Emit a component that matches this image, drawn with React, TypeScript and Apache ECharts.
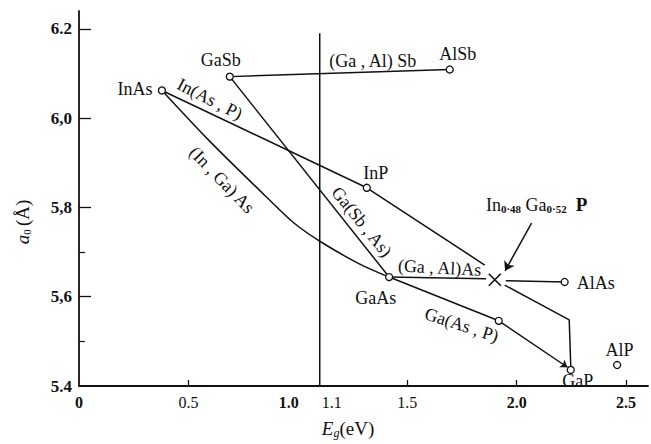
import React, { useEffect, useRef } from "react";
import * as echarts from "echarts";

// ---- data ----
const compoundNames = ["InAs", "GaSb", "AlSb", "InP", "GaAs", "AlAs", "GaP", "AlP"];
const compoundEg = [0.379, 0.689, 1.694, 1.315, 1.417, 2.219, 2.247, 2.459];
const compoundA = [6.062, 6.093, 6.109, 5.844, 5.644, 5.633, 5.436, 5.447];

const gaAsPMid: [number, number] = [1.918, 5.546];
const inGaPPoint: [number, number] = [1.9, 5.638];

const gaAlSbLine = [[0.689, 6.093], [1.694, 6.109]];
const siLine = [[1.1, 5.4], [1.1, 6.19]];
const inAsPLine = [[0.379, 6.062], [1.315, 5.844], [1.854, 5.671]];
const inGaAsCurve = [
  [0.379, 6.062], [0.598, 5.948], [0.872, 5.816],
  [0.985, 5.764], [1.108, 5.722], [1.283, 5.673], [1.417, 5.644],
];
const gaSbAsLine = [[0.689, 6.093], [1.417, 5.644]];
const gaAlAsLeft = [[1.417, 5.644], [1.86, 5.64]];
const gaAlAsRight = [[1.95, 5.636], [2.219, 5.633]];
const inGaPToGaP = [[1.945, 5.626], [2.24, 5.548], [2.247, 5.445]];
const gaAsPLine = [[1.417, 5.644], [1.918, 5.546]];
const gaAsPArrow = [[1.918, 5.546], [2.232, 5.442]];
const pointerArrow = [[2.068, 5.765], [1.947, 5.658]];

const xTickLabels = [0, 0.5, 1.0, 1.1, 1.5, 2.0, 2.5];
const xTicks = [0.5, 1.5, 2.0, 2.5];
const yTickLabels = [5.4, 5.6, 5.8, 6.0, 6.2];
const yTickText = ["5.4", "5,6", "5,8", "6,0", "6.2"];
const yMajorTicks = [5.6, 5.8, 6.0, 6.2];
const yMinorTicks = [5.5, 5.7];

// annotation texts and their anchor values
const annoText = [
  "InAs", "GaSb", "(Ga , Al) Sb", "AlSb", "InP", "GaAs", "AlAs", "GaP", "AlP",
  "In(As , P)", "(In , Ga) As", "Ga(Sb , As)", "(Ga , Al)As", "Ga(As , P)",
  "{n|In}{s|0·48} {n|Ga}{s|0·52}  {b|P}",
];
const annoEg = [0.256, 0.648, 1.342, 1.731, 1.356, 1.356, 2.361, 2.279, 2.47, 0.598, 0.653, 1.292, 1.648, 1.749, 2.091];
const annoA = [6.066, 6.131, 6.129, 6.144, 5.878, 5.597, 5.631, 5.411, 5.481, 6.043, 5.862, 5.768, 5.665, 5.537, 5.806];
const annoRotate = [0, 0, 0, 0, 0, 0, 0, 0, 0, -27, -46, -51, -3, -18, 0];

const FONT = "'Liberation Serif', 'DejaVu Serif', serif";
const INK = "#111";

export default function App() {
  const ref = useRef<HTMLDivElement>(null);
  useEffect(() => {
    if (!ref.current) return;
    const chart = echarts.init(ref.current, null, { renderer: "svg" });
    const lineSeries = (data: number[][], smooth: boolean | number = false) => ({
      type: "line",
      data,
      showSymbol: false,
      symbol: "none",
      smooth,
      silent: true,
      lineStyle: { color: INK, width: 1.5 },
      z: 2,
    });
    const arrowSeries = (coords: number[][], size: number) => ({
      type: "lines",
      coordinateSystem: "cartesian2d",
      silent: true,
      symbol: ["none", "arrow"],
      symbolSize: size,
      lineStyle: { color: INK, width: 1.5, curveness: 0, opacity: 1 },
      itemStyle: { color: INK },
      data: [{ coords }],
      z: 3,
    });
    const option: any = {
      animation: false,
      backgroundColor: "#fff",
      grid: { left: 79, right: 3, top: 11, bottom: 58 },
      xAxis: {
        type: "value",
        min: 0,
        max: 2.6,
        splitLine: { show: false },
        axisLine: { lineStyle: { color: INK, width: 1.8 } },
        axisTick: { inside: true, length: 6, customValues: xTicks, lineStyle: { color: INK, width: 1.3 } },
        axisLabel: {
          customValues: xTickLabels,
          margin: 8,
          color: INK,
          fontFamily: FONT,
          fontSize: 16,
          formatter: (v: number) => {
            if (v === 0) return "{b|0}";
            if (Math.abs(v - 1.0) < 1e-6) return "{l|1.0}";
            if (Math.abs(v - 1.1) < 1e-6) return "{r|1.1}";
            if (v === 2 || v === 2.5) return "{b|" + v.toFixed(1) + "}";
            return "{n|" + v.toFixed(1) + "}";
          },
          rich: {
            n: { fontFamily: FONT, fontSize: 16, color: INK },
            b: { fontFamily: FONT, fontSize: 16, color: INK, fontWeight: "bold" },
            l: { fontFamily: FONT, fontSize: 16, color: INK, fontWeight: "bold", padding: [0, 18, 0, 0] },
            r: { fontFamily: FONT, fontSize: 16, color: INK, padding: [0, 0, 0, 24] },
          },
        },
      },
      yAxis: [
        {
          type: "value",
          min: 5.4,
          max: 6.24,
          splitLine: { show: false },
          axisLine: { lineStyle: { color: INK, width: 1.8 } },
          axisTick: { inside: true, length: 12, customValues: yMajorTicks, lineStyle: { color: INK, width: 1.3 } },
          axisLabel: {
            customValues: yTickLabels,
            margin: 7,
            color: INK,
            fontFamily: FONT,
            fontSize: 17,
            fontWeight: "bold",
            formatter: (v: number) => {
              const i = yTickLabels.findIndex((t) => Math.abs(t - v) < 1e-6);
              return i >= 0 ? yTickText[i] : "";
            },
          },
        },
        {
          type: "value",
          min: 5.4,
          max: 6.24,
          position: "left",
          offset: 0,
          splitLine: { show: false },
          axisLine: { show: true, lineStyle: { color: "rgba(0,0,0,0)", width: 0 } },
          axisLabel: { show: false },
          axisTick: { show: true, inside: true, length: 6, customValues: yMinorTicks, lineStyle: { color: INK, width: 1.2 } },
        },
      ],
      graphic: [
        {
          type: "text",
          x: 348,
          y: 428,
          silent: true,
          style: {
            text: "{i|E}{s|g}{n|(eV)}",
            align: "center",
            verticalAlign: "middle",
            fill: INK,
            rich: {
              i: { fontFamily: FONT, fontSize: 19, fontStyle: "italic", fill: INK },
              s: { fontFamily: FONT, fontSize: 12, fontStyle: "italic", fill: INK, padding: [9, 0, 0, 0] },
              n: { fontFamily: FONT, fontSize: 19, fill: INK },
            },
          },
        },
        {
          type: "text",
          x: 22,
          y: 222,
          rotation: Math.PI / 2,
          silent: true,
          style: {
            text: "{i|a}{s|0} {n|(Å)}",
            align: "center",
            verticalAlign: "middle",
            fill: INK,
            rich: {
              i: { fontFamily: FONT, fontSize: 19, fontStyle: "italic", fill: INK },
              s: { fontFamily: FONT, fontSize: 11, fill: INK, padding: [9, 0, 0, 0] },
              n: { fontFamily: FONT, fontSize: 19, fill: INK },
            },
          },
        },
      ],
      series: [
        lineSeries(siLine),
        lineSeries(gaAlSbLine),
        lineSeries(inAsPLine),
        lineSeries(inGaAsCurve, 0.3),
        lineSeries(gaSbAsLine),
        lineSeries(gaAlAsLeft),
        lineSeries(gaAlAsRight),
        lineSeries(inGaPToGaP),
        lineSeries(gaAsPLine),
        arrowSeries(gaAsPArrow, 7),
        arrowSeries(pointerArrow, 9),
        {
          type: "scatter",
          silent: true,
          symbol: "path://M0,0L10,10M10,0L0,10",
          symbolSize: 12,
          itemStyle: { color: "none", borderColor: INK, borderWidth: 1.6, opacity: 1 },
          data: [inGaPPoint],
          z: 4,
        },
        {
          type: "scatter",
          silent: true,
          symbol: "circle",
          symbolSize: 7,
          itemStyle: { color: "#fff", borderColor: INK, borderWidth: 1.3, opacity: 1 },
          data: [
            ...compoundEg.map((e, i) => ({ name: compoundNames[i], value: [e, compoundA[i]] })),
            { name: "Ga(As,P)", value: gaAsPMid },
          ],
          z: 5,
        },
        {
          type: "scatter",
          silent: true,
          symbol: "circle",
          symbolSize: 1,
          itemStyle: { color: "rgba(0,0,0,0)", opacity: 1 },
          label: {
            show: true,
            position: "inside",
            color: INK,
            opacity: 1,
            fontFamily: FONT,
            fontSize: 18,
            formatter: (p: any) => annoText[p.dataIndex],
            rich: {
              n: { fontFamily: FONT, fontSize: 18, color: INK },
              s: { fontFamily: FONT, fontSize: 11, color: INK, fontWeight: "bold", padding: [8, 0, 0, 0] },
              b: { fontFamily: FONT, fontSize: 19, color: INK, fontWeight: "bold" },
            },
          },
          data: annoEg.map((e, i) => ({
            value: [e, annoA[i]],
            label: { rotate: annoRotate[i] },
          })),
          z: 6,
        },
      ],
    };
    chart.setOption(option);
    return () => chart.dispose();
  }, []);
  return <div ref={ref} style={{ position: "absolute", left: 0, top: 0, width: 651, height: 444 }} />;
}
